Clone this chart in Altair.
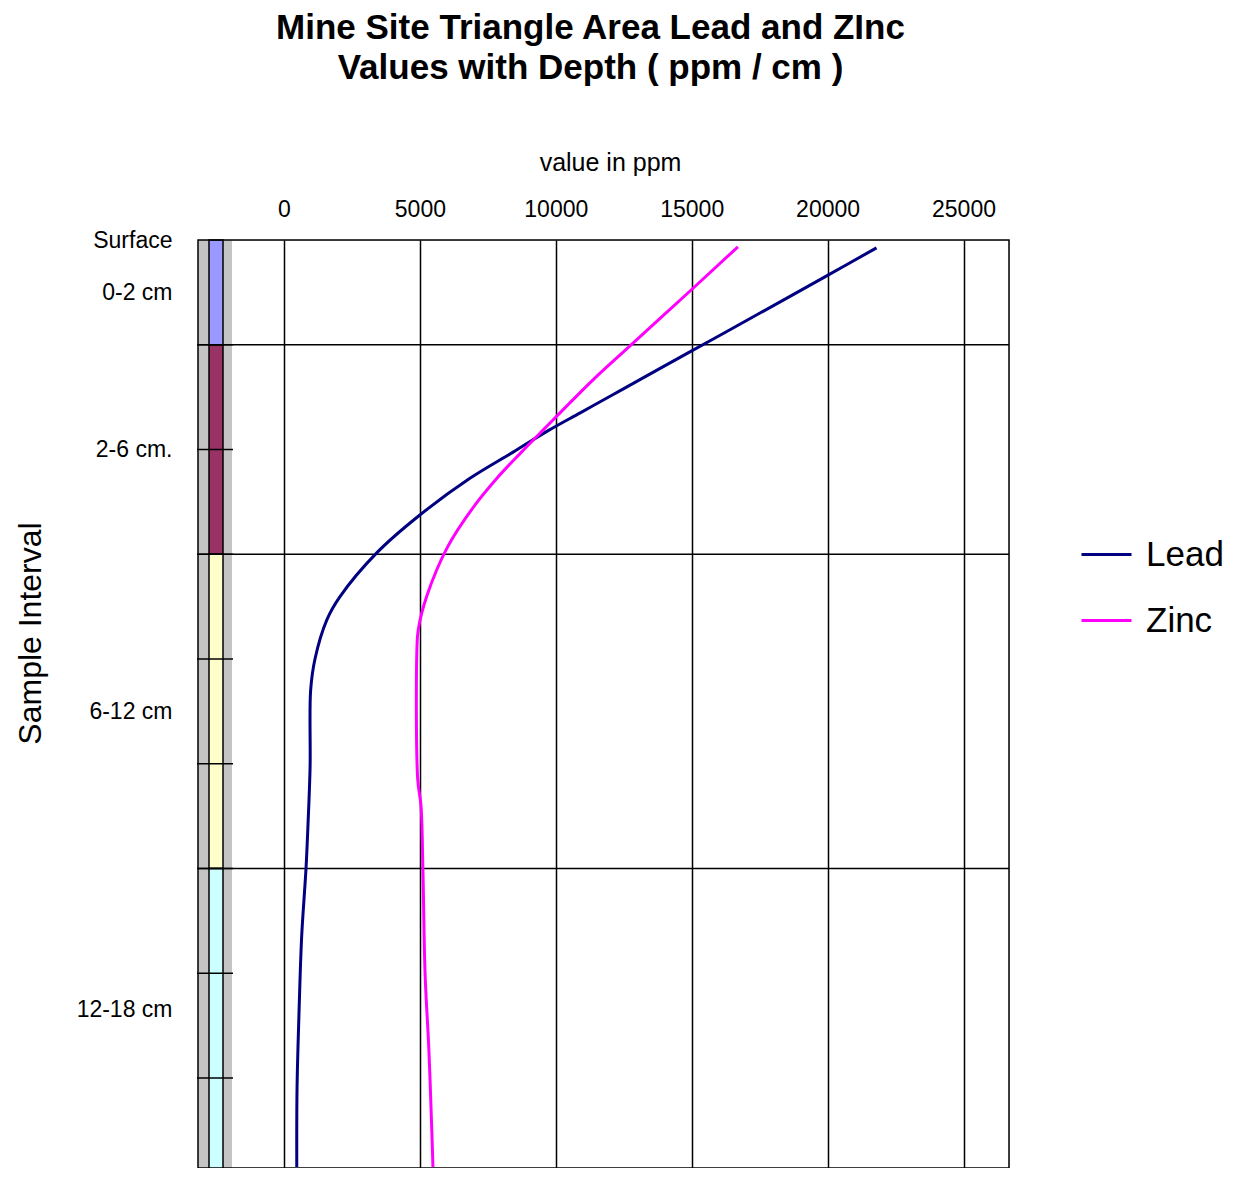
import altair as alt
import pandas as pd

# ---- data ----
lead_depth = [0.15, 0.69, 1.39, 1.77, 2.16, 2.7, 2.96, 3.3, 3.63, 4.05, 4.55, 5.28,
              5.97, 6.81, 7.25, 8.0, 8.6, 10.06, 11.2, 12.0, 13.3, 14.8, 16.2, 17.7]
lead_ppm = [21800, 19950, 17530, 16210, 14850, 12980, 12080, 10900, 9750, 8430, 6840, 4930,
            3420, 2060, 1580, 1140, 980, 960, 880, 810, 650, 550, 480, 470]

zinc_depth = [0.13, 1.05, 2.06, 2.67, 3.63, 4.07, 4.54, 5.1, 5.86, 6.79, 7.44, 7.82,
              10.3, 10.8, 12.0, 14.0, 15.46, 17.04, 17.7]
zinc_ppm = [16700, 14780, 12650, 11370, 9530, 8700, 7850, 6970, 6020, 5260, 4940, 4890,
            4920, 5040, 5110, 5190, 5330, 5440, 5480]

series_names = ["Lead", "Zinc"]
series_colors = ["#000080", "#FF00FF"]

interval_top = [0, 2, 6, 12]
interval_bottom = [2, 6, 12, 18]
interval_fill = ["#9999FF", "#993366", "#FFFFCC", "#CCFFFF"]
boundary_depths = [2, 6, 12]
minor_tick_depths = [2, 4, 6, 8, 10, 12, 14, 16]

label_depths = [0, 1, 4, 9, 14.7]
label_texts = ["Surface", "0-2 cm", "2-6 cm.", "6-12 cm", "12-18 cm"]
x_ticks = [0, 5000, 10000, 15000, 20000, 25000]

X_DOMAIN = [-3164, 26674]
Y_DOMAIN = [0, 17.72]
W, H = 811, 928
FONT = "Liberation Sans"

# ---- tables ----
lines_df = pd.concat([
    pd.DataFrame({"series": "Lead", "depth": lead_depth, "ppm": lead_ppm}),
    pd.DataFrame({"series": "Zinc", "depth": zinc_depth, "ppm": zinc_ppm}),
], ignore_index=True)
intervals_df = pd.DataFrame({"depth": interval_top, "depth_end": interval_bottom,
                             "fill": interval_fill})
bound_df = pd.DataFrame({"depth": boundary_depths})
minor_df = pd.DataFrame({"depth": minor_tick_depths})

label_expr = " : ".join(
    f"datum.value == {d} ? '{t}'" for d, t in zip(label_depths, label_texts)
) + " : ''"

x_scale = alt.Scale(domain=X_DOMAIN, nice=False, zero=False)
y_scale = alt.Scale(domain=Y_DOMAIN, reverse=True, nice=False, zero=False)

x_axis = alt.Axis(orient="top", values=x_ticks, format="d", title="value in ppm", grid=True,
                  gridColor="black", gridWidth=1.5, gridOpacity=1, ticks=False,
                  domain=False, labelFontSize=23, labelPadding=19, titleFontSize=25,
                  titleFontWeight="normal", titleY=-70, titleX=412,
                  titleBaseline="alphabetic")
y_axis = alt.Axis(values=label_depths, labelExpr=label_expr, grid=False, ticks=False,
                  domain=False, labelFontSize=23, labelPadding=26,
                  title="Sample Interval", titleFontSize=32, titleFontWeight="normal",
                  titleX=-168, titleY=393, titleAngle=270, titleAlign="center",
                  titleBaseline="middle")

strip_bg = alt.Chart(intervals_df).mark_rect(color="#C4C4C4").encode(
    x=alt.value(0), x2=alt.value(34),
    y=alt.Y("depth:Q", scale=y_scale, axis=y_axis), y2="depth_end:Q",
)
strip = alt.Chart(intervals_df).mark_rect(stroke="black", strokeWidth=1.5).encode(
    x=alt.value(11), x2=alt.value(25),
    y=alt.Y("depth:Q", scale=y_scale, axis=y_axis), y2="depth_end:Q",
    fill=alt.Fill("fill:N", scale=None),
)
minor = alt.Chart(minor_df).mark_rule(color="black", strokeWidth=1.5).encode(
    x=alt.value(-1), x2=alt.value(35),
    y=alt.Y("depth:Q", scale=y_scale, axis=y_axis),
)
bounds = alt.Chart(bound_df).mark_rule(color="black", strokeWidth=1.5).encode(
    y=alt.Y("depth:Q", scale=y_scale, axis=y_axis),
)
frame = alt.Chart(bound_df).mark_rect(fillOpacity=0, stroke="black", strokeWidth=1.5).encode(
    x=alt.value(0), x2=alt.value(W), y=alt.value(0), y2=alt.value(H),
).transform_filter("datum.depth == 2")
lines = alt.Chart(lines_df).mark_line(strokeWidth=3, interpolate="catmull-rom", clip=True).encode(
    x=alt.X("ppm:Q", scale=x_scale, axis=x_axis),
    y=alt.Y("depth:Q", scale=y_scale, axis=y_axis),
    order=alt.Order("depth:Q"),
    color=alt.Color("series:N", scale=alt.Scale(domain=series_names, range=series_colors),
                    legend=alt.Legend(title=None, orient="none", legendX=882, legendY=288,
                                      symbolType="stroke", symbolSize=2500,
                                      symbolStrokeWidth=3, labelFontSize=35,
                                      labelOffset=13, rowPadding=21, padding=0)),
)

chart = alt.layer(strip_bg, strip, minor, bounds, frame, lines).properties(
    width=W, height=H,
    autosize=alt.AutoSizeParams(type="none"),
    padding={"left": 190, "top": 232, "right": 214, "bottom": 0},
    title=alt.TitleParams(
        ["Mine Site Triangle Area Lead and ZInc", "Values  with Depth ( ppm / cm )"],
        fontSize=35, font=FONT, fontWeight="bold", color="black", lineHeight=40,
        anchor="middle", dx=-13, offset=64),
).configure_axis(
    labelFont=FONT, titleFont=FONT, labelColor="black", titleColor="black",
).configure_legend(
    labelFont=FONT, labelColor="black",
).configure_view(
    stroke="black", strokeWidth=1.5,
).configure(background="white")

chart.save("out.html", embed_options={"renderer": "svg", "actions": False})
